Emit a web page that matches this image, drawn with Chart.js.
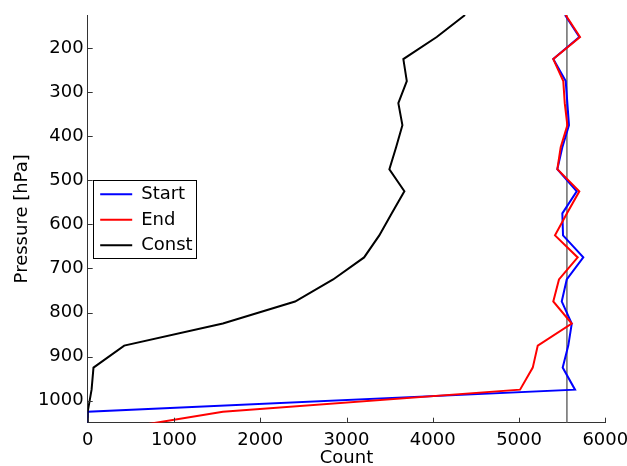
<!DOCTYPE html>
<html>
<head>
<meta charset="utf-8">
<script src="https://cdn.jsdelivr.net/npm/chart.js@4"></script>
<style>
  html, body { margin: 0; padding: 0; background: #fff; }
  #wrap { width: 627px; height: 466px; }
</style>
</head>
<body>
<div id="wrap"><canvas id="profileChart" width="627" height="466"></canvas></div>
<script>
// pressure levels [hPa]
const pressureLevels = [125, 175, 225, 275, 325, 375, 425, 475, 525, 575,
  625, 675, 725, 775, 825, 875, 925, 975, 1025, 1075];

const startCounts = [5533, 5699, 5397, 5541, 5560, 5579, 5502, 5444, 5669, 5502,
  5510, 5745, 5553, 5495, 5611, 5571, 5506, 5649, 0, 0];
const endCounts = [5540, 5707, 5397, 5513, 5530, 5560, 5483, 5444, 5699, 5556,
  5417, 5680, 5463, 5397, 5611, 5217, 5159, 5012, 1567, 20];
const constCounts = [4374, 4046, 3659, 3699, 3601, 3648, 3575, 3497, 3671, 3525,
  3380, 3204, 2845, 2404, 1567, 423, 67, 45, 0, 0];

const referenceCount = 5555;
const pressureRange = [125, 1050];
const countRange = [0, 6000];

const countTicks = [0, 1000, 2000, 3000, 4000, 5000, 6000];
const pressureTicks = [200, 300, 400, 500, 600, 700, 800, 900, 1000];

const FONT = "'DejaVu Sans', sans-serif";
const AXIS_COLOR = "#333333";

function toPoints(counts) {
  return counts.map((c, i) => ({ x: c, y: pressureLevels[i] }));
}

// inward tick marks (matlab style) and the legend frame
const extrasPlugin = {
  id: "extras",
  afterDraw(chart) {
    const { ctx, chartArea, scales } = chart;
    ctx.save();
    ctx.strokeStyle = AXIS_COLOR;
    ctx.lineWidth = 1;
    ctx.beginPath();
    countTicks.forEach((v) => {
      const px = Math.round(scales.x.getPixelForValue(v)) + 0.5;
      ctx.moveTo(px, chartArea.bottom);
      ctx.lineTo(px, chartArea.bottom - 5);
    });
    pressureTicks.forEach((v) => {
      const py = Math.round(scales.y.getPixelForValue(v)) + 0.5;
      ctx.moveTo(chartArea.left, py);
      ctx.lineTo(chartArea.left + 5, py);
    });
    ctx.stroke();

    const mid = (chartArea.top + chartArea.bottom) / 2;
    ctx.strokeStyle = "#000";
    ctx.strokeRect(Math.round(chartArea.left + 5.6) + 0.5, Math.round(mid - 39) + 0.5, 103, 78);
    ctx.restore();
  },
  afterLayout(chart) {
    const lg = chart.legend;
    lg.left += 5;
    lg.right += 5;
    lg.top += 16;
    lg.bottom += 16;
  }
};

const chart = new Chart(document.getElementById("profileChart"), {
  type: "scatter",
  data: {
    datasets: [
      {
        label: "Start",
        data: toPoints(startCounts),
        borderColor: "#0000ff",
        backgroundColor: "#0000ff",
        borderWidth: 2,
        order: 2
      },
      {
        label: "End",
        data: toPoints(endCounts),
        borderColor: "#ff0000",
        backgroundColor: "#ff0000",
        borderWidth: 2,
        order: 1
      },
      {
        label: "Const",
        data: toPoints(constCounts),
        borderColor: "#000000",
        backgroundColor: "#000000",
        borderWidth: 2,
        order: 0
      },
      {
        label: "",
        data: [
          { x: referenceCount, y: pressureRange[0] },
          { x: referenceCount, y: pressureRange[1] }
        ],
        borderColor: "#6b6b6b",
        backgroundColor: "#6b6b6b",
        borderWidth: 1.5,
        order: 3
      }
    ]
  },
  options: {
    responsive: false,
    animation: false,
    showLine: true,
    elements: {
      line: { tension: 0 },
      point: { radius: 0, hoverRadius: 0 }
    },
    layout: { padding: { top: 15, right: 21.7, bottom: 0, left: 0 } },
    scales: {
      x: {
        type: "linear",
        min: countRange[0],
        max: countRange[1],
        afterBuildTicks: (axis) => { axis.ticks = countTicks.map((v) => ({ value: v })); },
        afterFit: (scale) => {
          scale.height = 43.3;
          scale.paddingLeft = 0;
          scale.paddingRight = 0;
        },
        grid: { display: false, drawTicks: false },
        border: { display: true, color: AXIS_COLOR, width: 1 },
        ticks: {
          color: "#000",
          padding: 7,
          maxRotation: 0,
          font: { family: FONT, size: 18 },
          callback: (v) => String(v)
        },
        title: {
          display: true,
          text: "Count",
          color: "#000",
          padding: 0,
          font: { family: FONT, size: 18, lineHeight: 0.8 }
        }
      },
      y: {
        type: "linear",
        reverse: true,
        min: pressureRange[0],
        max: pressureRange[1],
        afterBuildTicks: (axis) => { axis.ticks = pressureTicks.map((v) => ({ value: v })); },
        afterFit: (scale) => {
          scale.width = 87.7;
          scale.paddingTop = 0;
          scale.paddingBottom = 0;
        },
        grid: { display: false, drawTicks: false },
        border: { display: true, color: AXIS_COLOR, width: 1 },
        ticks: {
          color: "#000",
          padding: 4,
          font: { family: FONT, size: 18 },
          callback: (v) => String(v)
        },
        title: {
          display: true,
          text: "Pressure [hPa]",
          color: "#000",
          padding: { top: 13.5, bottom: 0 },
          font: { family: FONT, size: 18, lineHeight: 1 }
        }
      }
    },
    plugins: {
      tooltip: { enabled: false },
      legend: {
        position: "chartArea",
        labels: {
          usePointStyle: true,
          pointStyle: "line",
          pointStyleWidth: 32,
          padding: 7.5,
          color: "#000",
          font: { family: FONT, size: 18 },
          filter: (item) => item.text !== "",
          sort: (a, b) => a.datasetIndex - b.datasetIndex
        }
      }
    }
  },
  plugins: [extrasPlugin]
});
</script>
</body>
</html>
